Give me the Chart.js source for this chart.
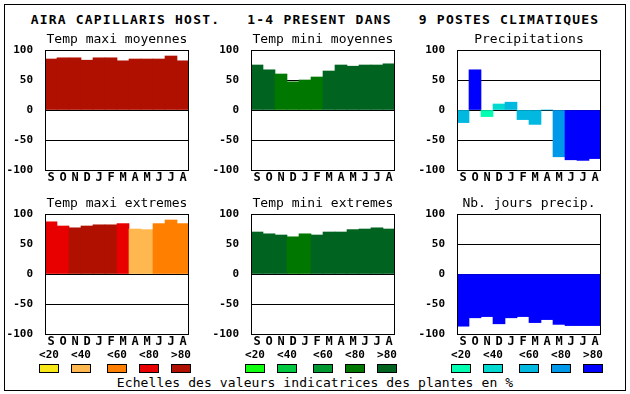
<!DOCTYPE html>
<html>
<head>
<meta charset="utf-8">
<script src="https://cdn.jsdelivr.net/npm/chart.js@4.4.1/dist/chart.umd.min.js"></script>
<style>
  body { margin:0; width:630px; height:394px; background:#fff; position:relative; overflow:hidden;
         font-family:"DejaVu Sans Mono", monospace; color:#000; }
  #frame { position:absolute; left:4px; top:4px; width:620px; height:385px; border:1px solid #000; }
  .txt { position:absolute; white-space:pre; line-height:1; }
  .title { left:0; width:630px; text-align:center; top:13px; font-size:13px; font-weight:bold; letter-spacing:1.2px; }
  .sub { font-size:13px; width:200px; text-align:center; }
  .leg { font-size:11px; font-weight:bold; width:30px; text-align:center; top:349px; }
  .sw { position:absolute; top:364px; width:18px; height:7px; border:1px solid #000; }
  .foot { left:0; width:630px; text-align:center; top:376px; font-size:13px; letter-spacing:0.1px; }
  canvas { position:absolute; }
</style>
</head>
<body>
<div id="frame"></div>
<div class="txt title">AIRA CAPILLARIS HOST.   1-4 PRESENT DANS   9 POSTES CLIMATIQUES</div>
<div class="txt foot">Echelles des valeurs indicatrices des plantes en %</div>

<script>
// donnees
const months = ['S','O','N','D','J','F','M','A','M','J','J','A'];
const yTicks = [-100, -50, 0, 50, 100];
const legendLabels = ['<20','<40','<60','<80','>80'];

const warm  = ['#f8e818','#ffb850','#ff8000','#e80000','#b01000'];
const green = ['#10ff10','#00c840','#009830','#007800','#006420'];
const blue  = ['#00ffb0','#00d8d0','#00b8e0','#0098e8','#0000ff'];

const tmaxMoy     = [85, 87, 87, 83, 87, 87, 82, 85, 85, 85, 90, 82];
const tmaxMoyCls  = [4, 4, 4, 4, 4, 4, 4, 4, 4, 4, 4, 4];
const tminMoy     = [75, 67, 60, 47, 50, 55, 65, 75, 73, 75, 75, 77];
const tminMoyCls  = [4, 4, 3, 3, 3, 3, 4, 4, 4, 4, 4, 4];
const precip      = [-21, 67, -11, 10, 13, -16, -24, 0, -78, -83, -84, -81];
const precipCls   = [2, 4, 0, 1, 2, 2, 2, 2, 3, 4, 4, 4];
const tmaxExt     = [87, 80, 77, 80, 82, 82, 84, 75, 74, 84, 90, 84];
const tmaxExtCls  = [3, 3, 4, 4, 4, 4, 3, 1, 1, 2, 2, 2];
const tminExt     = [70, 67, 65, 62, 67, 65, 70, 70, 74, 75, 77, 75];
const tminExtCls  = [4, 4, 4, 3, 3, 4, 4, 4, 4, 4, 4, 4];
const joursPrec   = [-87, -73, -71, -83, -73, -71, -81, -76, -84, -86, -86, -86];
const joursPrecCls= [4, 4, 4, 4, 4, 4, 4, 4, 4, 4, 4, 4];

const FONT = '"DejaVu Sans Mono", monospace';
const colsX = [45, 251, 457];
const rowsY = [50, 214];

// cadre noir autour de la zone du graphe
const framePlugin = {
  id: 'frame',
  afterDraw(chart) {
    const a = chart.chartArea, ctx = chart.ctx;
    ctx.save();
    ctx.strokeStyle = '#000';
    ctx.lineWidth = 1;
    ctx.strokeRect(Math.round(a.left) + 0.5, Math.round(a.top) + 0.5, Math.round(a.right - a.left) - 1, Math.round(a.bottom - a.top));
    ctx.restore();
  }
};

function addText(cls, text, x, y) {
  const d = document.createElement('div');
  d.className = 'txt ' + cls;
  d.textContent = text;
  d.style.left = x + 'px';
  d.style.top = y + 'px';
  document.body.appendChild(d);
}

function noPad(a) {
  a.paddingTop = 0; a.paddingBottom = 0; a.paddingLeft = 0; a.paddingRight = 0;
}

function makePanel(col, row, title, values, classes, palette) {
  const px = colsX[col], py = rowsY[row];
  const cv = document.createElement('canvas');
  cv.width = 193; cv.height = 152;
  cv.style.left = (px - 45) + 'px';
  cv.style.top = (py - 8) + 'px';
  document.body.appendChild(cv);

  addText('sub', title, px + 72 - 100, py - 18);

  new Chart(cv, {
    type: 'bar',
    data: {
      labels: months,
      datasets: [{
        data: values,
        backgroundColor: classes.map(c => palette[c]),
        borderWidth: 0,
        barPercentage: 1,
        categoryPercentage: 1
      }]
    },
    options: {
      responsive: false,
      animation: false,
      layout: { padding: { top: 8, right: 4, left: 0, bottom: 0 } },
      plugins: { legend: { display: false }, tooltip: { enabled: false } },
      scales: {
        x: {
          grid: { display: false },
          border: { display: false },
          ticks: { color: '#000', font: { family: FONT, size: 12, weight: 'bold' }, padding: -7, maxRotation: 0, autoSkip: false },
          afterFit: a => { a.height = 24; noPad(a); }
        },
        y: {
          min: -100, max: 100, z: 1,
          afterBuildTicks: a => { a.ticks = yTicks.map(v => ({ value: v })); },
          ticks: { color: '#000', font: { family: FONT, size: 11, weight: 'bold' }, padding: 12 },
          grid: { color: '#000', lineWidth: 1, drawTicks: false },
          border: { display: false },
          afterFit: a => { a.width = 45; noPad(a); }
        }
      }
    },
    plugins: [framePlugin]
  });
}

makePanel(0, 0, 'Temp maxi moyennes', tmaxMoy, tmaxMoyCls, warm);
makePanel(1, 0, 'Temp mini moyennes', tminMoy, tminMoyCls, green);
makePanel(2, 0, 'Precipitations', precip, precipCls, blue);
makePanel(0, 1, 'Temp maxi extremes', tmaxExt, tmaxExtCls, warm);
makePanel(1, 1, 'Temp mini extremes', tminExt, tminExtCls, green);
makePanel(2, 1, 'Nb. jours precip.', joursPrec, joursPrecCls, blue);

// echelles de couleurs
const swOff = [-6, 26, 62, 94, 126];
[warm, green, blue].forEach((pal, c) => {
  pal.forEach((col, i) => {
    const x = colsX[c] + swOff[i];
    addText('leg', legendLabels[i], x - 5, 349);
    const s = document.createElement('div');
    s.className = 'sw';
    s.style.left = x + 'px';
    s.style.background = col;
    document.body.appendChild(s);
  });
});
</script>
</body>
</html>
